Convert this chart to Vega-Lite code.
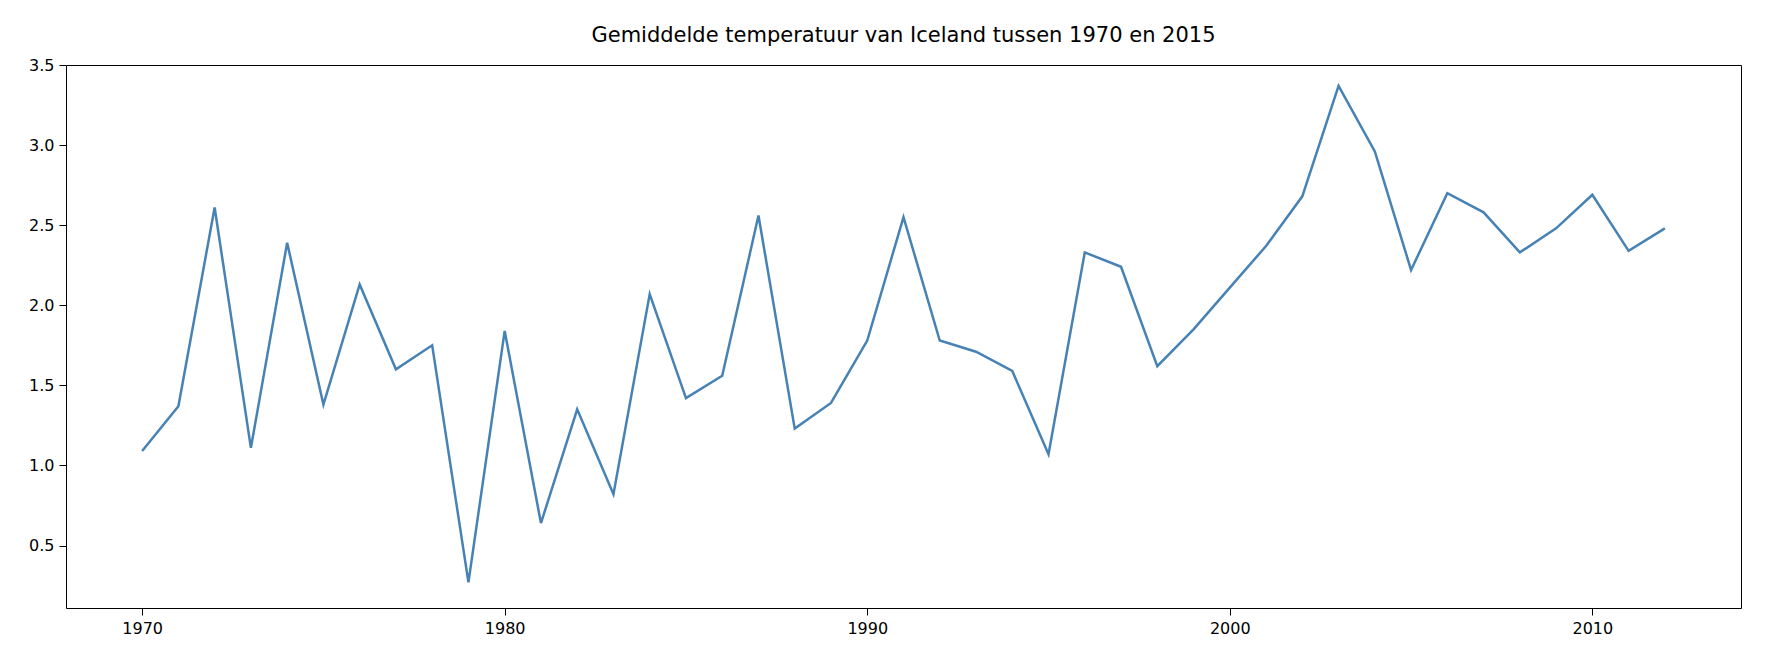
{
  "$schema": "https://vega.github.io/schema/vega-lite/v6.json",
  "autosize": {"type": "none"},
  "width": 1675,
  "height": 543,
  "padding": {"left": 66, "top": 65, "right": 41, "bottom": 52},
  "background": "white",
  "config": {
    "font": "DejaVu Sans",
    "view": {"stroke": "black", "strokeWidth": 1}
  },
  "title": {
    "text": "Gemiddelde temperatuur van Iceland tussen 1970 en 2015",
    "fontSize": 21, "fontWeight": "normal", "color": "black", "offset": 11
  },
  "data": {"values": [
    {"year": 1970, "temp": 1.09}, {"year": 1971, "temp": 1.37}, {"year": 1972, "temp": 2.61},
    {"year": 1973, "temp": 1.11}, {"year": 1974, "temp": 2.39}, {"year": 1975, "temp": 1.38},
    {"year": 1976, "temp": 2.13}, {"year": 1977, "temp": 1.60}, {"year": 1978, "temp": 1.75},
    {"year": 1979, "temp": 0.27}, {"year": 1980, "temp": 1.84}, {"year": 1981, "temp": 0.64},
    {"year": 1982, "temp": 1.35}, {"year": 1983, "temp": 0.82}, {"year": 1984, "temp": 2.07},
    {"year": 1985, "temp": 1.42}, {"year": 1986, "temp": 1.56}, {"year": 1987, "temp": 2.56},
    {"year": 1988, "temp": 1.23}, {"year": 1989, "temp": 1.39}, {"year": 1990, "temp": 1.78},
    {"year": 1991, "temp": 2.55}, {"year": 1992, "temp": 1.78}, {"year": 1993, "temp": 1.71},
    {"year": 1994, "temp": 1.59}, {"year": 1995, "temp": 1.07}, {"year": 1996, "temp": 2.33},
    {"year": 1997, "temp": 2.24}, {"year": 1998, "temp": 1.62}, {"year": 1999, "temp": 1.85},
    {"year": 2000, "temp": 2.11}, {"year": 2001, "temp": 2.37}, {"year": 2002, "temp": 2.68},
    {"year": 2003, "temp": 3.37}, {"year": 2004, "temp": 2.96}, {"year": 2005, "temp": 2.22},
    {"year": 2006, "temp": 2.70}, {"year": 2007, "temp": 2.58}, {"year": 2008, "temp": 2.33},
    {"year": 2009, "temp": 2.48}, {"year": 2010, "temp": 2.69}, {"year": 2011, "temp": 2.34},
    {"year": 2012, "temp": 2.48}
  ]},
  "mark": {"type": "line", "color": "#4682b4", "strokeWidth": 2.5},
  "encoding": {
    "x": {
      "field": "year", "type": "quantitative",
      "scale": {"domain": [1967.9, 2014.1], "nice": false, "zero": false},
      "axis": {"title": null, "values": [1970, 1980, 1990, 2000, 2010], "format": "d",
               "grid": false, "domain": false, "tickColor": "black", "tickSize": 7,
               "labelFontSize": 16, "labelColor": "black", "labelPadding": 5}
    },
    "y": {
      "field": "temp", "type": "quantitative",
      "scale": {"domain": [0.11, 3.5], "nice": false, "zero": false},
      "axis": {"title": null, "values": [0.5, 1.0, 1.5, 2.0, 2.5, 3.0, 3.5], "format": ".1f",
               "grid": false, "domain": false, "tickColor": "black", "tickSize": 7,
               "labelFontSize": 16, "labelColor": "black", "labelPadding": 5}
    }
  }
}
